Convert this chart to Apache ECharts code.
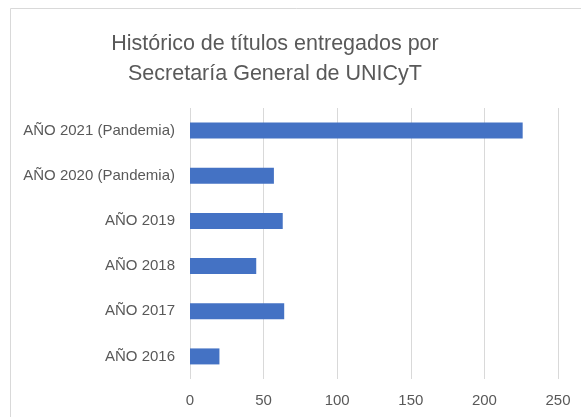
<!DOCTYPE html>
<html>
<head>
<meta charset="utf-8">
<style>
    html, body { margin: 0; padding: 0; background: #fff; }
    #main { width: 581px; height: 417px; }
</style>
<script src="https://cdn.jsdelivr.net/npm/echarts@6/dist/echarts.min.js"></script>
</head>
<body>
<div id="main"></div>
<script>
    // datos
    let categories = ['AÑO 2016', 'AÑO 2017', 'AÑO 2018', 'AÑO 2019', 'AÑO 2020 (Pandemia)', 'AÑO 2021 (Pandemia)'];
    let titulos = [20, 64, 45, 63, 57, 226];
    let xTicks = [0, 50, 100, 150, 200, 250];

    let fontName = 'Liberation Sans';
    let myChart = echarts.init(document.getElementById('main'));
    let opt = {
        animation: false,
        title: {
            text: 'Histórico de títulos entregados por\nSecretaría General de UNICyT',
            left: 270,
            textAlign: 'center',
            top: 24,
            textStyle: {
                color: '#595959',
                fontFamily: fontName,
                fontWeight: 'normal',
                fontSize: 21.5,
                lineHeight: 30
            }
        },
        graphic: [{
            type: 'rect',
            shape: {x: 10.5, y: 8.5, width: 700, height: 500},
            style: {fill: 'none', stroke: '#d9d9d9', lineWidth: 1},
            silent: true
        }],
        grid: {
            left: 190,
            right: 23,
            top: 108,
            bottom: 38
        },
        xAxis: {
            type: 'value',
            min: xTicks[0],
            max: xTicks[xTicks.length - 1],
            interval: 50,
            axisLine: {show: false},
            axisTick: {show: false},
            axisLabel: {
                color: '#595959',
                fontFamily: fontName,
                fontSize: 15,
                margin: 14
            },
            splitLine: {
                lineStyle: {color: '#d9d9d9', width: 1}
            }
        },
        yAxis: {
            type: 'category',
            data: categories,
            axisLine: {show: false},
            axisTick: {show: false},
            axisLabel: {
                color: '#595959',
                fontFamily: fontName,
                fontSize: 15,
                margin: 15
            }
        },
        series: [{
            type: 'bar',
            data: titulos,
            barWidth: 16,
            itemStyle: {color: '#4472C4'}
        }]
    };
    myChart.setOption(opt);
</script>
</body>
</html>
